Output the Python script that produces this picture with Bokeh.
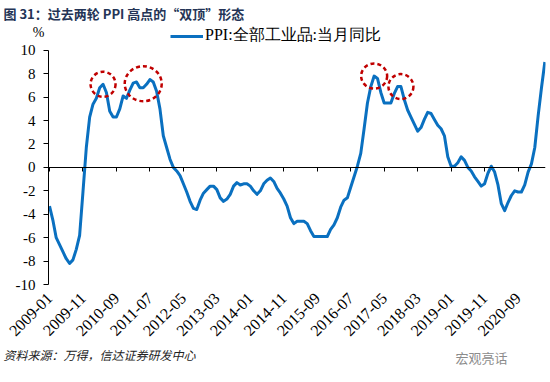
import numpy as np
from bokeh.plotting import figure
from bokeh.models import FixedTicker, LinearAxis, Label, Range1d, Title
from bokeh.embed import file_html
from bokeh.resources import INLINE

# PPI: all industrial products, YoY (%), monthly 2009-01 .. 2021-05
ppi = [
    -3.3, -4.5, -6.0, -6.6, -7.2, -7.8, -8.2, -7.9, -7.0, -5.8, -2.1, 1.7,   # 2009
    4.3, 5.4, 5.9, 6.8, 7.1, 6.4, 4.8, 4.3, 4.3, 5.0, 6.1, 5.9,              # 2010
    6.6, 7.2, 7.3, 6.8, 6.8, 7.1, 7.5, 7.3, 6.5, 5.0, 2.7, 1.7,              # 2011
    0.7, 0.0, -0.3, -0.7, -1.4, -2.1, -2.9, -3.5, -3.6, -2.8, -2.2, -1.9,    # 2012
    -1.6, -1.6, -1.9, -2.6, -2.9, -2.7, -2.3, -1.6, -1.3, -1.5, -1.4, -1.4,  # 2013
    -1.6, -2.0, -2.3, -2.0, -1.4, -1.1, -0.9, -1.2, -1.8, -2.2, -2.7, -3.3,  # 2014
    -4.3, -4.8, -4.6, -4.6, -4.6, -4.8, -5.4, -5.9, -5.9, -5.9, -5.9, -5.9,  # 2015
    -5.3, -4.9, -4.3, -3.4, -2.8, -2.6, -1.7, -0.8, 0.1, 1.2, 3.3, 5.5,      # 2016
    6.9, 7.8, 7.6, 6.4, 5.5, 5.5, 5.5, 6.3, 6.9, 6.9, 5.8, 4.9,              # 2017
    4.3, 3.7, 3.1, 3.4, 4.1, 4.7, 4.6, 4.1, 3.6, 3.3, 2.7, 0.9,              # 2018
    0.1, 0.1, 0.4, 0.9, 0.6, 0.0, -0.3, -0.8, -1.2, -1.6, -1.4, -0.5,        # 2019
    0.1, -0.4, -1.5, -3.1, -3.7, -3.0, -2.4, -2.0, -2.1, -2.1, -1.5, -0.4,   # 2020
    0.3, 1.7, 4.4, 6.8, 9.0,                                                 # 2021
]
x_tick_labels = ["2009-01", "2009-11", "2010-09", "2011-07", "2012-05", "2013-03",
                 "2014-01", "2014-11", "2015-09", "2016-07", "2017-05", "2018-03",
                 "2019-01", "2019-11", "2020-09"]
x_tick_step = 10
y_ticks = [-10, -8, -6, -4, -2, 0, 2, 4, 6, 8, 10]
y_tick_labels = ["-10", "-8", "-6", "-4", "-2", "0", "2", "4", "6", "8", "10"]
series_name = "PPI:全部工业品:当月同比"

# highlighted peaks ("double tops"): month index, half window, circle size (px)
peak_idx = [16, 28, 97, 105]
peak_half = [0, 3, 0, 0]
peak_w = [25, 37, 26, 25]
peak_h = [25, 35, 25, 25]

x = np.arange(len(ppi))
serif = "'Liberation Serif'"
cjk = "'Noto Sans CJK SC'"

W, H = 550, 382
FL, FR, FT, FB = 48, 545, 22, 285          # frame edges in pixels
AXT = 49                                   # pixel row of y = 10
X0, X1, Y0, YA = -0.3, 148.2, -10, 10
Y1 = YA + (AXT - FT) * (YA - Y0) / (FB - AXT)

p = figure(width=W, height=H, x_range=Range1d(X0, X1), y_range=Range1d(Y0, Y1),
           output_backend="svg", toolbar_location=None,
           min_border_left=FL, min_border_right=W - FR, min_border_top=FT,
           min_border_bottom=H - FB)
p.grid.visible = False
p.outline_line_color = None
p.background_fill_color = "white"
p.border_fill_color = "white"

# y axis
ya = p.yaxis[0]
ya.bounds = (Y0, YA)
ya.ticker = FixedTicker(ticks=y_ticks)
ya.major_label_overrides = {t: s for t, s in zip(y_ticks, y_tick_labels)}
ya.major_label_text_font = serif
ya.major_label_text_font_size = "15px"
ya.major_label_text_color = "black"
ya.axis_line_color = "black"
ya.major_tick_line_color = "black"
ya.major_tick_out = 5
ya.major_tick_in = 0
ya.minor_tick_out = 0
ya.minor_tick_in = 0
ya.major_label_standoff = 8

# x axis labels at bottom
xticks = list(range(0, len(x_tick_labels) * x_tick_step, x_tick_step))
xa = p.xaxis[0]
xa.ticker = FixedTicker(ticks=xticks)
xa.major_label_overrides = {t: s for t, s in zip(xticks, x_tick_labels)}
xa.major_label_orientation = np.pi / 4
xa.major_label_text_font = serif
xa.major_label_text_font_size = "16px"
xa.major_label_text_color = "black"
xa.axis_line_color = None
xa.major_tick_line_color = None
xa.major_tick_out = 0
xa.major_tick_in = 0
xa.minor_tick_line_color = None
xa.minor_tick_out = 0
xa.major_label_standoff = 11

# axis line at zero with ticks pointing down
za = LinearAxis(fixed_location=0, ticker=FixedTicker(ticks=xticks))
za.major_label_text_font_size = "0px"
za.major_label_text_alpha = 0
za.major_label_standoff = 0
za.axis_line_color = "black"
za.major_tick_line_color = "black"
za.major_tick_out = 0
za.major_tick_in = 4
za.minor_tick_line_color = None
p.add_layout(za, "above")

# series
p.line(x, ppi, line_color="#0A70C0", line_width=3, line_join="round",
       legend_label=series_name)

# dashed circles around peaks
cx, cy = [], []
for i, h in zip(peak_idx, peak_half):
    cx.append(i)
    cy.append(float(np.mean(ppi[i - h:i + h + 1])))
p.ellipse(x=cx, y=cy, width=peak_w, height=peak_h, width_units="screen", height_units="screen",
          fill_alpha=0, line_color="#C00000", line_width=2.5, line_dash="4 3")

lg = p.legend[0]
lg.location = (122, FB - 47)
lg.label_text_font = serif
lg.label_text_font_size = "16px"
lg.label_text_color = "black"
lg.glyph_width = 33
lg.glyph_height = 16
lg.label_height = 16
lg.label_standoff = 2
lg.padding = 0
lg.margin = 0
lg.border_line_alpha = 0
lg.background_fill_alpha = 0

# percent sign above the y axis (left panel)
p.add_layout(Label(x=38, y=FB - 33, x_units="screen", y_units="screen", text="%",
                   text_font=serif, text_font_size="14px", text_color="black",
                   text_baseline="middle", text_align="center"), "left")

# title
p.title.text = "图 31：过去两轮 PPI 高点的“双顶”形态"
p.title.align = "left"
p.title.offset = -45
p.title.text_font = cjk
p.title.text_font_size = "13px"
p.title.text_font_style = "bold"
p.title.text_color = "#243456"
p.title.standoff = 2

# footer
p.add_layout(Title(text="资料来源：万得，信达证券研发中心", align="left", offset=-45,
                   text_font=cjk, text_font_size="12px", text_font_style="italic",
                   text_color="#222222", standoff=1), "below")
p.add_layout(Label(x=459, y=16, x_units="screen", y_units="screen",
                   text="宏观亮话", text_font=cjk,
                   text_font_size="13px", text_color="#8c8c8c",
                   text_baseline="bottom", text_align="right"), "below")

open("out.html", "w").write(file_html(p, INLINE))
